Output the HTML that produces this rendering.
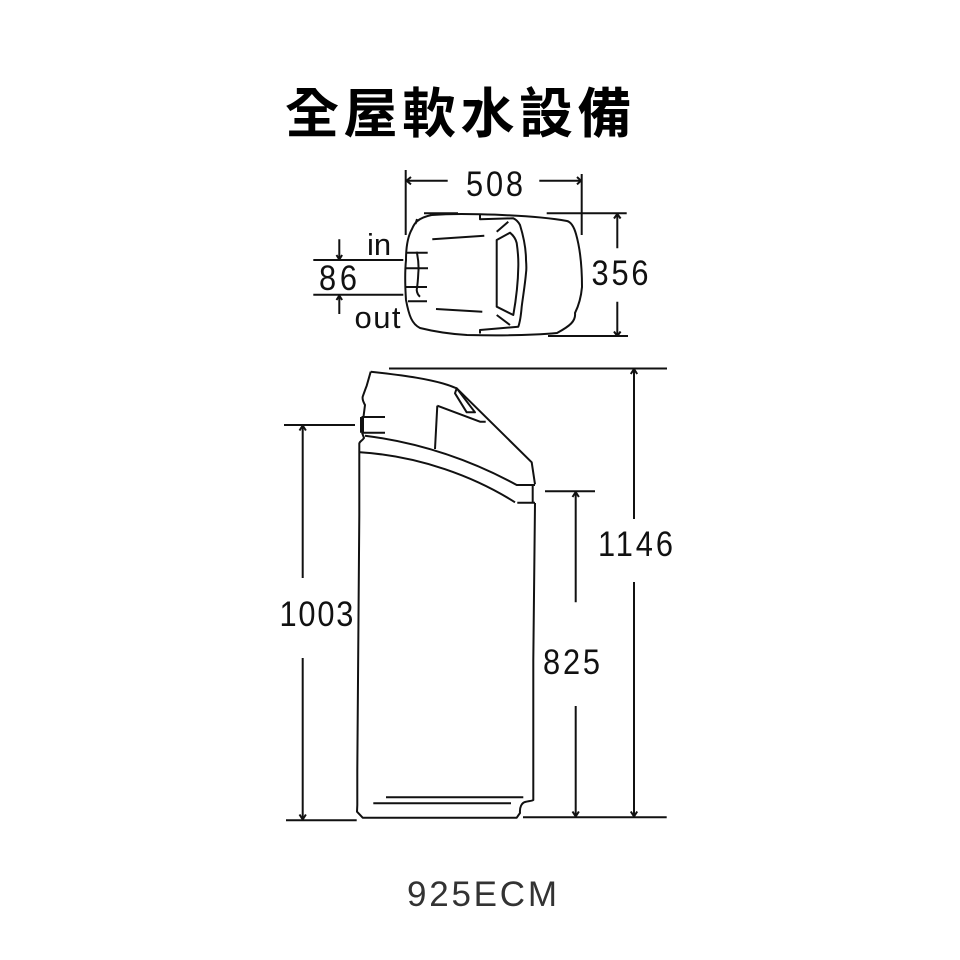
<!DOCTYPE html>
<html>
<head>
<meta charset="utf-8">
<style>
html,body{margin:0;padding:0;background:#fff}
svg{display:block}
text{font-family:"Liberation Sans","Noto Sans CJK TC",sans-serif;fill:#111}
</style>
</head>
<body>
<svg width="960" height="960" viewBox="0 0 960 960" xmlns="http://www.w3.org/2000/svg">
<rect width="960" height="960" fill="#fff"/>
<text x="285" y="132.500" font-size="54" font-weight="700" letter-spacing="4.500" style='font-family:"Noto Sans CJK TC",sans-serif;fill:#000'>全屋軟水設備</text>

<g fill="none" stroke="#111" stroke-width="2" stroke-linejoin="round">
<!-- top view outline -->
<path d="M424 213.300H458M431.700 215C445 214 465 213.800 480 214.300C510 215 545 217 567 221C571 222 574 227 576 234C580 248 582 268 582 287C581 298 578 307 575 313C576 321 570 326 557 333C530 335.500 490 335.500 467 335C450 334 432 331 420 328C412 324 409 316 406 300C405 285 405 270 406 260C406 247 408 236 412 229C414 224 417 218 431.700 215"/>
<path d="M415.500 224L417 219"/>
<!-- top-view inner -->
<path d="M480 214.300V219.300L513.300 218.300C517 220 519 223 520 225C524 238 526 250 526 260C526.500 266 526.500 270 526 273C525 285 523 296 521.700 306.700C521 315 520 322 518.300 326.700L480 330V333.500"/>
<path d="M496.700 231.700L508.300 221.700M496.700 240L510 232.700C514 236 516 240 516.700 243C518 252 518.500 260 518.300 266.700C518 285 516 300 513.300 315L496.700 306.700Z"/>
<path d="M432.300 239.300L484.300 235.700M436 309L482.300 311.700M496.700 315L510 325"/>
<path d="M406 252.700H427.700M406 268.300H428M406 287H427M408 301.300H427"/>
<path d="M416.700 251.700C418.500 260 419 266 418.300 273C418 280 417.500 285 416.700 290C417 293 418 295 420 296.700"/>
<!-- dimension lines top -->
<path d="M405.700 170V235M581.700 174V235M406 180.700H447.700M539.300 180.700H581.700"/>
<path d="M411 177L406.500 180.700L411 184.400M577 177L581 180.700L577 184.400"/>
<path d="M546.700 213.300H626.700M548 336H628M617.300 214V248.300M617.300 301.700V336"/>
<path d="M614 218.500L617.300 214L620.600 218.500M614 331.500L617.300 336L620.600 331.500"/>
<path d="M313.300 260H403.300M313.300 294.700H403.300M339.300 239.300V259M339.300 296V314"/>
<path d="M336.500 255L339.300 259.500L342.100 255M336.500 300L339.300 295.500L342.100 300"/>

<!-- side view body -->
<path d="M389 368.500H667"/>
<path d="M370.700 371.700C400 375 435 379 455 387.700L456.700 388.300L531.700 462.300L535 484.300"/>
<path d="M370.700 371.700L366.700 385.700C365 390 364 393 362.700 396.700C362 400 364 403 365 405L363.500 416.700M362 432.500L364 438C362 441 360 441 359.300 443.300V515L357.300 770V805L357 811.700L362.700 817.700H516.700L520 813C519.500 807 521.700 803 525 802C529 801 532 801 533.300 800L533.300 660L535 503"/>
<path d="M455 393.300L456.700 388.300L475 412.300H466.700L455 393.300ZM437.300 405.700L435 449M437.300 405.700L480 421.700H485.700"/>
<path d="M365 435.700C430 444 480 465 516.700 485H535M360 452.300C420 456 475 477 515 502.300M517.300 502.700H535M532.700 485V501.700"/>
<path d="M361.500 417H385M361.500 432.700H385M361 417V432.700M363 417V432.700"/>
<path d="M386 797.300H523.300M373.300 803.300H511"/>
<!-- side dimensions -->
<path d="M284 425H355M286 820.300H356.700M302.700 426V578M302.700 658V820"/>
<path d="M299.500 814.500L302.700 819.500L305.900 814.500M299.500 430.500L302.700 425.500L305.900 430.500"/>
<path d="M523 817.300H666.700M545 491.300H595M634 369V519M634 582V817M575.700 492V602.300M575.700 706V817"/>
<path d="M630.800 374L634 369L637.200 374M630.800 811.500L634 816.500L637.200 811.500M572.500 497L575.700 492L578.900 497M572.500 811.500L575.700 816.500L578.900 811.500"/>
</g>

<g font-size="35">
<text transform="translate(466 196) scale(.88 1)" textLength="64.800">508</text>
<text transform="translate(591.500 285) scale(.88 1)" textLength="64.800">356</text>
<text transform="translate(319 290) scale(.88 1)" textLength="43.200">86</text>
<text x="367" y="255" font-size="31">in</text>
<text x="354.500" y="328" font-size="31" textLength="46">out</text>
<text transform="translate(598 556) scale(.88 1)" textLength="85.200">1146</text>
<text transform="translate(279.500 626) scale(.88 1)" textLength="84">1003</text>
<text transform="translate(543 674) scale(.88 1)" textLength="64.800">825</text>
</g>
<text x="407" y="906" font-size="35" textLength="150" style="fill:#333">925ECM</text>
</svg>
</body>
</html>
